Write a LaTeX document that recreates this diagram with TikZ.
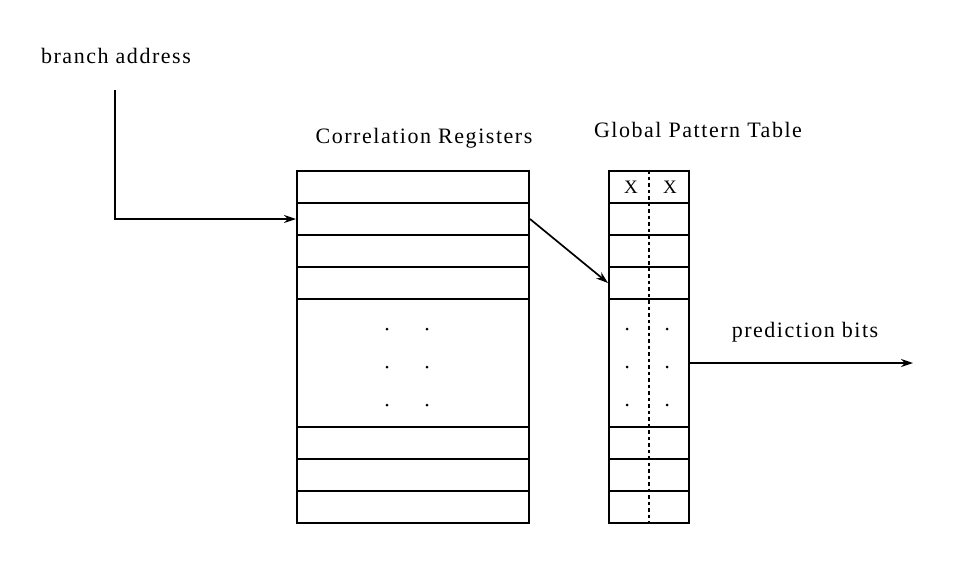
\documentclass[tikz,border=0pt]{standalone}
\usepackage{fontspec}
\setmainfont{Liberation Serif}[LetterSpace=7]
\usetikzlibrary{arrows.meta}
\tikzset{
  cell/.style={draw, line width=2pt, inner sep=0pt, minimum height=32pt},
  crcell/.style={cell, minimum width=232pt},
  gpcell/.style={cell, minimum width=80pt},
  lbl/.style={font=\fontsize{22}{26}\selectfont, anchor=base, inner sep=0pt},
  xlbl/.style={font=\fontsize{19}{20}\selectfont, inner sep=0pt},
  arr/.style={line width=1.7pt, -{Stealth[length=12pt,width=8pt]}},
  dot/.style={circle, fill, inner sep=0pt, minimum size=3pt},
  sep/.style={line width=2pt, dash pattern=on 3.5pt off 3pt}
}
\begin{document}
\begin{tikzpicture}[x=1pt,y=-1pt]
\useasboundingbox (0,0) rectangle (958,568);
% labels
\node[lbl] (ba) at (116,63) {branch address};
\node[lbl] (crl) at (424,143) {Correlation Registers};
\node[lbl] (gpl) at (698,137) {Global Pattern Table};
\node[lbl] (pb) at (805,337) {prediction bits};
% correlation registers
\node[crcell] (cr1) at (413,187) {};
\node[crcell] (cr2) at (413,219) {};
\node[crcell] (cr3) at (413,251) {};
\node[crcell] (cr4) at (413,283) {};
\node[crcell, minimum height=128pt] (cr5) at (413,363) {};
\node[crcell] (cr6) at (413,443) {};
\node[crcell] (cr7) at (413,475) {};
\node[crcell] (cr8) at (413,507) {};
% global pattern table
\node[gpcell] (gp1) at (649,187) {};
\node[gpcell] (gp2) at (649,219) {};
\node[gpcell] (gp3) at (649,251) {};
\node[gpcell] (gp4) at (649,283) {};
\node[gpcell, minimum height=128pt] (gp5) at (649,363) {};
\node[gpcell] (gp6) at (649,443) {};
\node[gpcell] (gp7) at (649,475) {};
\node[gpcell] (gp8) at (649,507) {};
\draw[sep] (gp1.north) -- (gp8.south);
\node[xlbl] (x1) at (631,187) {X};
\node[xlbl] (x2) at (670,187) {X};
% dots
\foreach \y [count=\i] in {329,367,405} {
  \node[dot] (cda\i) at (387,\y) {};
  \node[dot] (cdb\i) at (427,\y) {};
  \node[dot] (gda\i) at (627,\y) {};
  \node[dot] (gdb\i) at (667,\y) {};
}
% connectors
\coordinate (bstart) at (115,90);
\coordinate (pout) at (913,363);
\draw[arr] (bstart) |- (cr2.west);
\draw[arr] (cr2.east) -- (gp4.west);
\draw[arr] (gp5.east) -- (pout);
\end{tikzpicture}
\end{document}
